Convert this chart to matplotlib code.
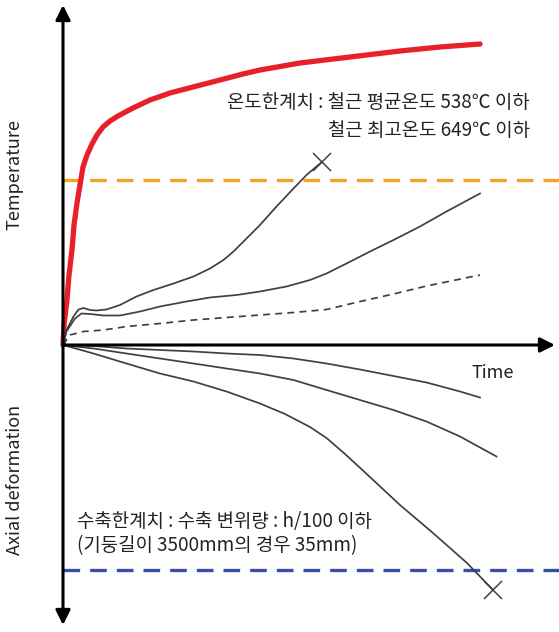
import numpy as np
import matplotlib.pyplot as plt

plt.rcParams['font.family'] = ['Noto Sans CJK KR', 'DejaVu Sans']

# fire curve (heating temperature)
t_fire = [0, 0.02, 0.08, 0.12, 0.18, 0.22, 0.28, 0.34, 0.4, 0.48, 0.58, 0.68, 0.8, 0.94, 1.1,
          1.4, 1.74, 2.14, 2.6, 3.14, 3.6, 3.94, 4.74, 5.74, 6.74, 7.54, 8.34]
v_fire = [0, 0.4, 0.9, 1.4, 1.9, 2.4, 2.84, 3.2, 3.56, 3.8, 4.02, 4.2, 4.36, 4.48, 4.58,
          4.74, 4.9, 5.04, 5.16, 5.3, 5.42, 5.5, 5.64, 5.76, 5.88, 5.96, 6.02]

# steel temperature curves
t_a = [0, 0.07, 0.21, 0.31, 0.41, 0.54, 0.67, 0.87, 1.14, 1.47, 1.81, 2.21, 2.61, 2.94, 3.21,
       3.41, 3.67, 3.94, 4.27, 4.61, 4.87, 5.07, 5.18]
v_a = [0, 0.3, 0.57, 0.71, 0.74, 0.7, 0.69, 0.71, 0.8, 0.97, 1.1, 1.23, 1.37, 1.53, 1.7,
       1.87, 2.13, 2.4, 2.77, 3.13, 3.4, 3.57, 3.66]
t_b = [0, 0.07, 0.24, 0.37, 0.54, 0.81, 1.14, 1.54, 1.94, 2.47, 2.94, 3.47, 3.94, 4.47, 4.94,
       5.27, 5.67, 6.14, 6.61, 7.14, 7.67, 8.34]
v_b = [0, 0.27, 0.53, 0.63, 0.62, 0.59, 0.59, 0.67, 0.77, 0.87, 0.95, 1.0, 1.07, 1.17, 1.3,
       1.43, 1.63, 1.87, 2.1, 2.37, 2.67, 3.03]
t_c = [0, 0.14, 0.41, 0.81, 1.27, 1.94, 2.61, 3.27, 3.94, 4.61, 5.27, 5.94, 6.61, 7.27, 8.34]
v_c = [0, 0.2, 0.27, 0.3, 0.37, 0.43, 0.5, 0.55, 0.6, 0.65, 0.71, 0.87, 1.02, 1.18, 1.4]

# axial deformation curves
t_d1 = [0, 0.61, 1.27, 1.94, 2.61, 3.27, 3.94, 4.61, 5.27, 5.94, 6.61, 7.27, 7.94, 8.34]
v_d1 = [0, -0.02, -0.07, -0.1, -0.13, -0.17, -0.2, -0.27, -0.37, -0.49, -0.62, -0.75, -0.93, -1.05]
t_d2 = [0, 0.61, 1.27, 1.94, 2.61, 3.27, 3.94, 4.61, 5.27, 5.94, 6.61, 7.27, 7.94, 8.67]
v_d2 = [0, -0.07, -0.17, -0.27, -0.37, -0.47, -0.57, -0.7, -0.9, -1.1, -1.3, -1.53, -1.83, -2.23]
t_d3 = [0, 0.61, 1.27, 1.94, 2.61, 3.27, 3.94, 4.44, 4.94, 5.27, 5.64, 6.01, 6.74, 7.4, 8.08, 8.6]
v_d3 = [0, -0.17, -0.37, -0.57, -0.73, -0.93, -1.17, -1.38, -1.64, -1.86, -2.18, -2.52, -3.2, -3.76, -4.36, -4.9]

temp_limit = 3.3
deform_limit = -4.5

fig = plt.figure(figsize=(5.59, 6.32), dpi=100)
ax = fig.add_axes([0, 0, 1, 1])
ax.set_xlim(-1.26, 9.92)
ax.set_ylim(-5.74, 6.9)
ax.axis('off')

# axes arrows
ax.annotate('', xy=(0, 6.8), xytext=(0, -5.6),
            arrowprops=dict(arrowstyle='<|-|>', color='black', lw=2.2, mutation_scale=22, shrinkA=0, shrinkB=0))
ax.annotate('', xy=(9.84, 0), xytext=(0, 0),
            arrowprops=dict(arrowstyle='-|>', color='black', lw=2.2, mutation_scale=22, shrinkA=0, shrinkB=0))

# limit lines
ax.plot([0, 9.92], [temp_limit, temp_limit], color='#f5a12c', lw=2.4, ls=(0, (5, 3)))
ax.plot([0, 9.92], [deform_limit, deform_limit], color='#3a4da6', lw=2.4, ls=(0, (5, 3)))

ax.plot(t_fire, v_fire, color='#e8202a', lw=3.8, solid_capstyle='round', solid_joinstyle='round')

gray = '#404040'
for t, v in [(t_a, v_a), (t_b, v_b), (t_d1, v_d1), (t_d2, v_d2), (t_d3, v_d3)]:
    ax.plot(t, v, color=gray, lw=1.25, solid_joinstyle='round')
ax.plot(t_c, v_c, color=gray, lw=1.25, ls=(0, (4, 3)))

# failure markers
ax.plot([t_a[-1], t_d3[-1]], [v_a[-1], v_d3[-1]], ls='none', marker='x', ms=13, mew=1.1, color=gray)

txt = '#222222'
fs = 13
fk = 13.6
ax.text(-0.96, 3.4, 'Temperature', rotation=90, ha='center', va='center', fontsize=fs, color=txt)
ax.text(-0.96, -2.7, 'Axial deformation', rotation=90, ha='center', va='center', fontsize=fs, color=txt)
ax.text(8.6, -0.56, 'Time', ha='center', va='center', fontsize=fs, color=txt)

ax.text(9.34, 4.84, '온도한계치 : 철근 평균온도 538℃ 이하', ha='right', va='center', fontsize=fk, color=txt)
ax.text(9.34, 4.28, '철근 최고온도 649℃ 이하', ha='right', va='center', fontsize=fk, color=txt)
ax.text(0.28, -3.54, '수축한계치 : 수축 변위량 : h/100 이하', ha='left', va='center', fontsize=fk, color=txt)
ax.text(0.28, -4.02, '(기둥길이 3500mm의 경우 35mm)', ha='left', va='center', fontsize=fk, color=txt)

fig.savefig('out.png', dpi=100)
